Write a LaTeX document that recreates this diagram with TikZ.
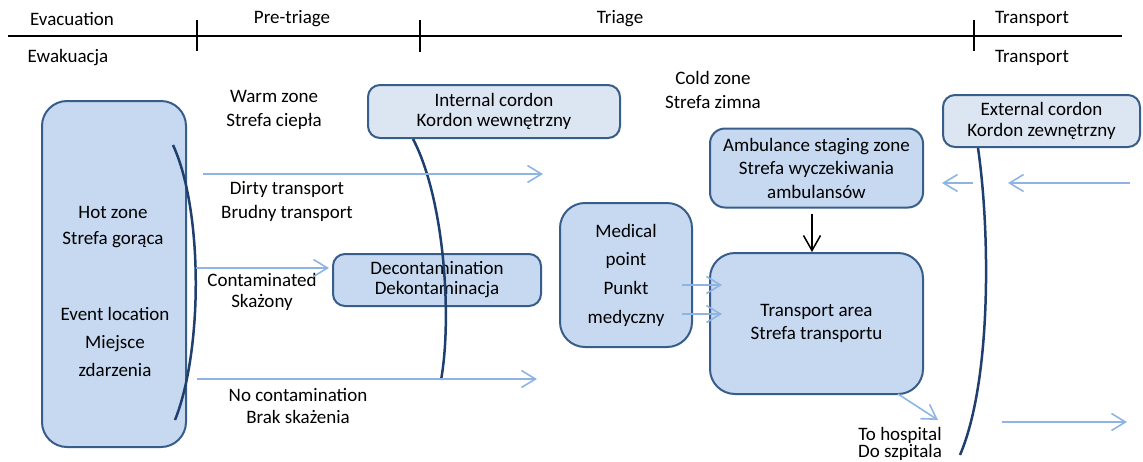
\documentclass[tikz,border=0pt]{standalone}
\usepackage{fontspec}
\setmainfont{Carlito}
\usetikzlibrary{arrows.meta}
\definecolor{boxfill}{HTML}{C6D9F1}
\definecolor{cordfill}{HTML}{DCE6F2}
\definecolor{boxline}{HTML}{385D8A}
\definecolor{arcline}{HTML}{1F3F6E}
\definecolor{flow}{HTML}{8EB4E3}
\tikzset{
  box/.style={draw=boxline, line width=2pt, fill=boxfill, inner sep=0pt, align=center, font=\fontsize{19}{#1}\selectfont},
  box/.default=23pt,
  cordbox/.style={box=#1, fill=cordfill, rounded corners=12pt},
  lbl/.style={align=center, inner sep=0pt, font=\fontsize{19}{#1}\selectfont},
  lbl/.default=23pt,
  arc/.style={draw=arcline, line width=2.5pt},
  flowarrow/.style={draw=flow, line width=1.6pt, -{Straight Barb[length=14pt,width=17pt,line width=1.6pt]}},
  blackarrow/.style={draw=black, line width=1.5pt, -{Straight Barb[length=15pt,width=17pt,line width=1.5pt]}},
  timeline/.style={draw=black, line width=1.4pt}
}
\begin{document}
\begin{tikzpicture}[x=1pt,y=-1pt]
\useasboundingbox (0,0) rectangle (1143,461);
% timeline
\coordinate (tlA) at (8,36);
\coordinate (tlB) at (1122,36);
\coordinate (t1a) at (197,20); \coordinate (t1b) at (197,51);
\coordinate (t2a) at (420,20); \coordinate (t2b) at (420,52);
\coordinate (t3a) at (974,20); \coordinate (t3b) at (974,51);
\draw[timeline] (tlA) -- (tlB);
\draw[timeline] (t1a) -- (t1b);
\draw[timeline] (t2a) -- (t2b);
\draw[timeline] (t3a) -- (t3b);
\node[lbl] (ev) at (72,19) {Evacuation};
\node[lbl] (pt) at (292,19) {Pre-triage};
\node[lbl] (tr) at (620,19) {Triage};
\node[lbl] (tp1) at (1032,19) {Transport};
\node[lbl] (ew) at (68,58) {Ewakuacja};
\node[lbl] (tp2) at (1032,58) {Transport};
% boxes
\node[box, rounded corners=25pt, minimum width=144pt, minimum height=346pt] (hot) at (114,274) {};
\node[cordbox=20pt, minimum width=252pt, minimum height=53pt] (intc) at (494,111.5) {Internal cordon\\Kordon wewnętrzny};
\node[box=20pt, rounded corners=12pt, minimum width=208pt, minimum height=52pt] (decon) at (437,280) {Decontamination\\Dekontaminacja};
\node[box=23.5pt, rounded corners=15pt, minimum width=213pt, minimum height=79pt] (amb) at (816.5,168) {Ambulance staging zone\\Strefa wyczekiwania\\ambulansów};
\node[box=28.7pt, rounded corners=25pt, minimum width=132pt, minimum height=144pt] (med) at (626,275) {Medical\\point\\Punkt\\medyczny};
\node[box=23pt, rounded corners=25pt, minimum width=213pt, minimum height=141pt] (trans) at (816.5,323.5) {Transport area\\Strefa transportu};
\node[cordbox=21pt, minimum width=197pt, minimum height=52pt] (extc) at (1041.5,121) {External cordon\\Kordon zewnętrzny};
% labels
\node[lbl=26pt] (hottxt) at (113,227) {Hot zone\\Strefa gorąca};
\node[lbl=28pt] (evtxt) at (115,342) {Event location\\Miejsce\\zdarzenia};
\node[lbl=24pt] (warm) at (274,110) {Warm zone\\Strefa ciepła};
\node[lbl=24pt] (cold) at (713,90) {Cold zone\\Strefa zimna};
\node[lbl=24pt] (dirty) at (287,201) {Dirty transport\\Brudny transport};
\node[lbl=21pt] (contam) at (262,292) {Contaminated\\Skażony};
\node[lbl=22pt] (nocont) at (298,406) {No contamination\\Brak skażenia};
\node[lbl=17pt] (hosp) at (900,444) {To hospital\\Do szpitala};
% cordon arcs
\coordinate (hA) at (173,145);
\coordinate (hB) at (175,420);
\draw[arc] (hA) .. controls (203,210) and (203,350) .. (hB);
\coordinate (iB) at (441,380);
\draw[arc] ([xshift=-81pt]intc.south) .. controls (445,200) and (452,320) .. (iB);
\coordinate (eB) at (960,455);
\draw[arc] ([xshift=-63.5pt]extc.south) .. controls (990,230) and (992,380) .. (eB);
% flow arrows
\coordinate (d1) at (203,174); \coordinate (d2) at (543,174);
\coordinate (c1) at (196,268);
\coordinate (n1) at (197,379); \coordinate (n2) at (537,379);
\coordinate (m1) at (682,285); \coordinate (m2) at (722,285);
\coordinate (m3) at (682,314); \coordinate (m4) at (722,314);
\coordinate (h1) at (898,394); \coordinate (h2) at (938,420);
\coordinate (l1) at (973,183); \coordinate (l2) at (942,183);
\coordinate (l3) at (1130,183); \coordinate (l4) at (1008,183);
\coordinate (r1) at (1002,422); \coordinate (r2) at (1127,422);
\draw[flowarrow] (d1) -- (d2);
\draw[flowarrow] (c1) -- ([xshift=-3pt]c1 -| decon.west);
\draw[flowarrow] (n1) -- (n2);
\draw[flowarrow] (m1) -- (m2);
\draw[flowarrow] (m3) -- (m4);
\draw[flowarrow] (h1) -- (h2);
\draw[flowarrow] (l1) -- (l2);
\draw[flowarrow] (l3) -- (l4);
\draw[flowarrow] (r1) -- (r2);
\draw[blackarrow] ([xshift=-4.5pt,yshift=-5pt]amb.south) -- ([xshift=-4.5pt]trans.north);
\end{tikzpicture}
\end{document}
